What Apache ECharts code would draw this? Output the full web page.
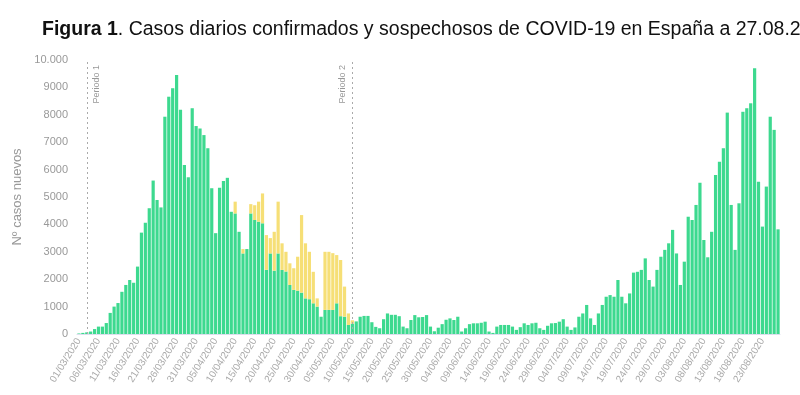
<!DOCTYPE html>
<html><head><meta charset="utf-8">
<script src="https://cdn.jsdelivr.net/npm/echarts/dist/echarts.min.js"></script>
<style>html,body{margin:0;padding:0;background:#fff}#c{width:800px;height:395px}</style>
</head><body><div id="c"></div>
<script>
// Categories: daily dates 01/03/2020 .. 27/08/2020
const dates = [];
(function () {
  const d = new Date(Date.UTC(2020, 2, 1));
  for (let i = 0; i < 180; i++) {
    const dd = String(d.getUTCDate()).padStart(2, '0');
    const mm = String(d.getUTCMonth() + 1).padStart(2, '0');
    dates.push(dd + '/' + mm + '/' + d.getUTCFullYear());
    d.setUTCDate(d.getUTCDate() + 1);
  }
})();

// Confirmed cases (green)
const confirmados = [
  20,40,60,90,180,270,270,400,770,1000,
  1130,1540,1790,1970,1870,2460,3700,4060,4590,5600,
  4890,4620,7930,8660,8970,9450,8180,6170,5720,8240,
  7590,7500,7260,6780,5320,3680,5340,5580,5700,4460,
  4400,3730,2940,3100,4400,4160,4100,4040,2340,2940,
  2310,2940,2340,2280,1790,1610,1580,1510,1300,1270,
  1120,1000,630,880,880,880,1120,650,630,330,
  380,460,630,660,660,430,260,210,540,750,
  700,700,650,270,210,510,690,610,620,690,
  270,100,230,360,520,570,510,630,90,210,
  360,390,390,410,450,90,40,270,330,330,
  330,270,150,250,390,330,390,410,210,150,
  300,390,400,450,540,270,150,240,630,750,
  1060,570,330,750,1060,1360,1420,1360,1970,1360,
  1120,1480,2240,2270,2340,2760,1970,1730,2340,2820,
  3070,3310,3800,2940,1790,2640,4280,4160,4710,5520,
  3430,2800,3730,5800,6290,6780,8080,4710,3070,4770,
  8110,8240,8420,9700,5560,3920,5380,7930,7450,3820
];

// Suspected cases (yellow, stacked on top)
const sospechosos = [
  0,0,0,0,0,0,0,0,0,0,
  0,0,0,0,0,0,0,0,0,0,
  0,0,0,0,0,0,0,0,0,0,
  0,0,0,0,0,0,0,0,0,0,
  430,0,160,0,340,540,730,1090,1270,560,
  1420,1890,970,720,790,790,1240,2830,2010,1730,
  1150,300,0,2120,2120,2070,1760,2050,1100,420,
  120,0,0,0,0,0,0,0,0,0,
  0,0,0,0,0,0,0,0,0,0,
  0,0,0,0,0,0,0,0,0,0,
  0,0,0,0,0,0,0,0,0,0,
  0,0,0,0,0,0,0,0,0,0,
  0,0,0,0,0,0,0,0,0,0,
  0,0,0,0,0,0,0,0,0,0,
  0,0,0,0,0,0,0,0,0,0,
  0,0,0,0,0,0,0,0,0,0,
  0,0,0,0,0,0,0,0,0,0,
  0,0,0,0,0,0,0,0,0,0
];

const periodoFechas = ['03/03/2020', '10/05/2020'];
const periodoNombres = ['Periodo 1', 'Periodo 2'];

const chart = echarts.init(document.getElementById('c'), null, { renderer: 'canvas' });
chart.setOption({
  animation: false,
  backgroundColor: '#fff',
  title: {
    text: '{b|Figura 1}. Casos diarios confirmados y sospechosos de COVID-19 en España a 27.08.2020',
    left: 37, top: 15,
    textStyle: {
      fontFamily: 'Liberation Sans', fontSize: 19.5, color: '#111', fontWeight: 'normal',
      rich: { b: { fontFamily: 'Liberation Sans', fontSize: 19.5, fontWeight: 'bold', color: '#111' } }
    }
  },
  grid: { left: 77, right: 20, top: 60, bottom: 61, containLabel: false },
  xAxis: {
    type: 'category', data: dates,
    axisTick: { show: false },
    axisLine: { lineStyle: { color: '#dde' } },
    axisLabel: { interval: 4, rotate: 58, fontSize: 10, color: '#aaa', margin: 5, fontFamily: 'Liberation Sans' }
  },
  yAxis: {
    type: 'value', min: 0, max: 10000, interval: 1000,
    splitLine: { show: false },
    axisLine: { show: false }, axisTick: { show: false },
    axisLabel: { color: '#999', fontSize: 11, margin: 9, fontFamily: 'Liberation Sans',
      formatter: v => v === 10000 ? '10.000' : String(v) },
    name: 'Nº casos nuevos', nameLocation: 'middle', nameGap: 44,
    nameTextStyle: { color: '#999', fontSize: 13, fontFamily: 'Liberation Sans' }
  },
  series: [
    {
      name: 'Confirmados', type: 'bar', stack: 'c', data: confirmados,
      barCategoryGap: '18%',
      itemStyle: { color: '#3dd98f' },
      markLine: {
        symbol: 'none', silent: true, animation: false,
        lineStyle: { type: [2, 3], color: '#aaa', width: 1 },
        label: { show: true, formatter: '{b}', fontSize: 9, color: '#999' },
        data: [
          { name: periodoNombres[0], xAxis: periodoFechas[0], label: { position: 'insideEndBottom' } },
          { name: periodoNombres[1], xAxis: periodoFechas[1], label: { position: 'insideEndTop' } }
        ]
      }
    },
    {
      name: 'Sospechosos', type: 'bar', stack: 'c', data: sospechosos,
      barCategoryGap: '18%',
      itemStyle: { color: '#f6df76' }
    }
  ]
});
</script>
</body></html>
